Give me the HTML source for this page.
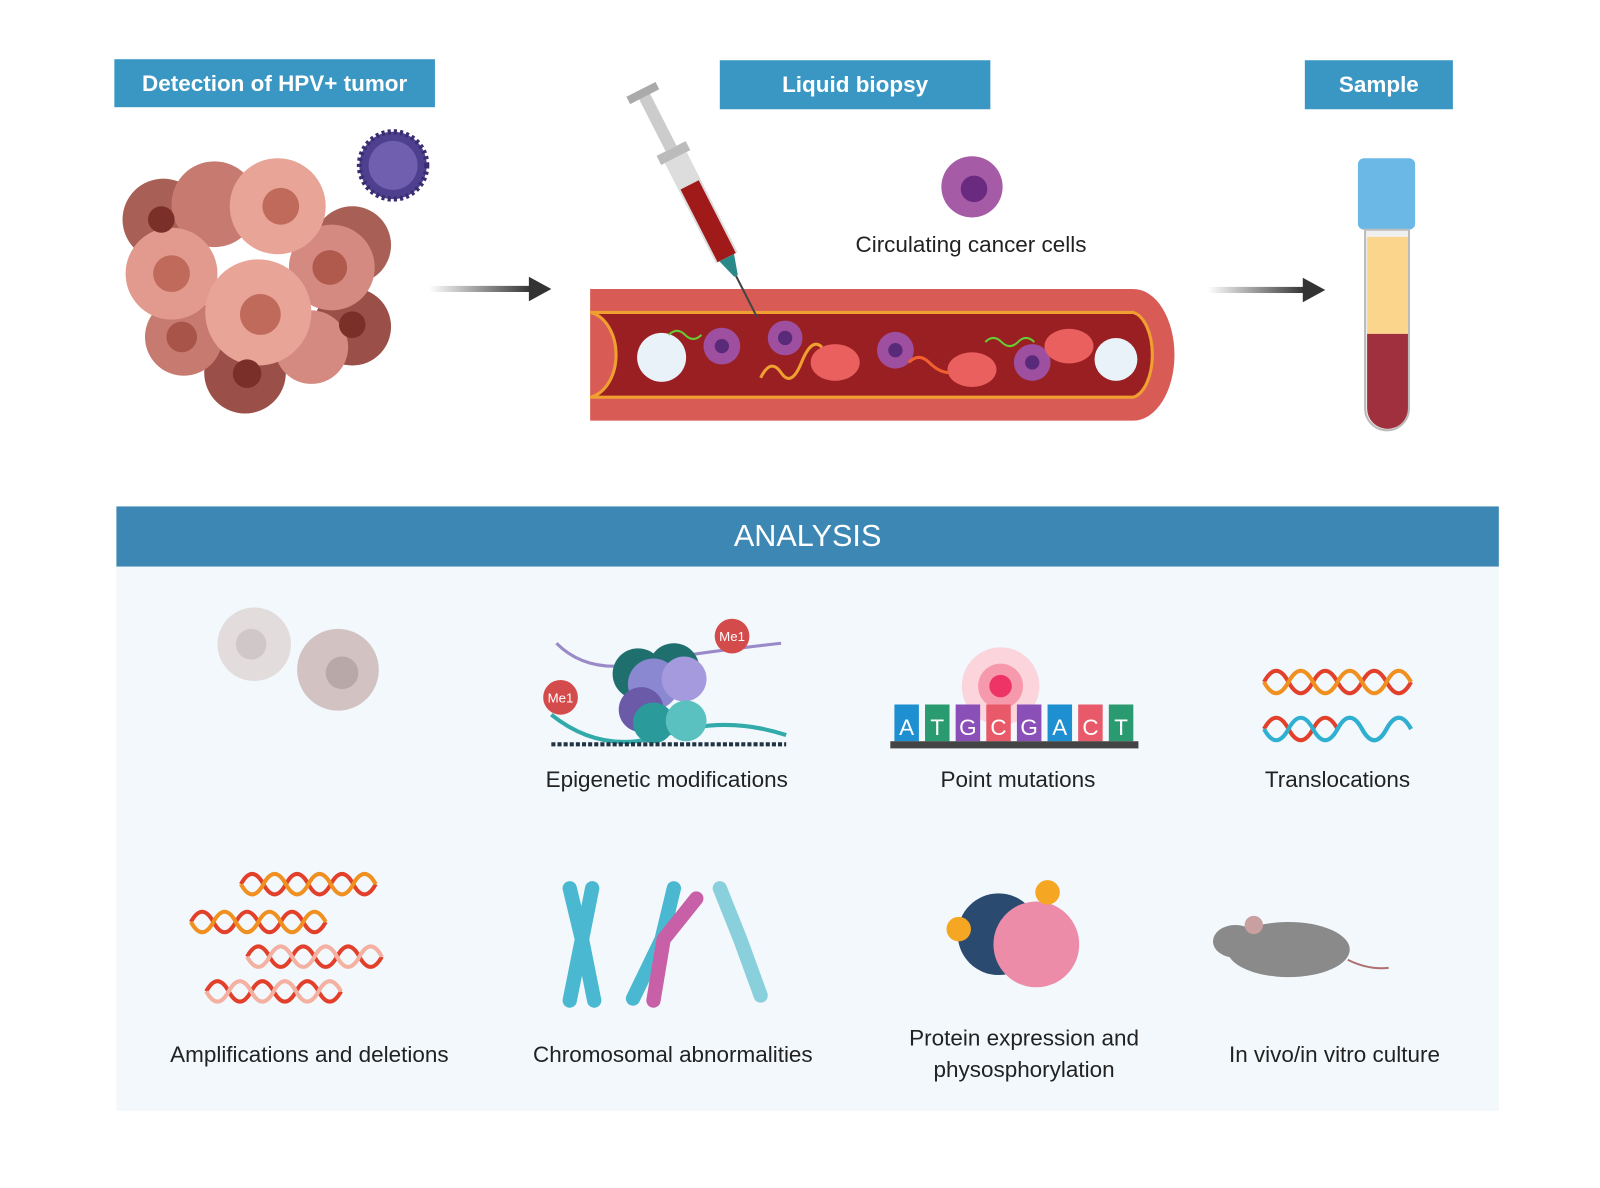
<!DOCTYPE html>
<html><head><meta charset="utf-8"><style>
body{margin:0;width:1600px;height:1164px;background:#fff;position:relative;overflow:hidden;font-family:"Liberation Sans",sans-serif}
#w{position:absolute;left:0;top:0;width:1567px;height:1140px;transform:scale(1.021);transform-origin:0 0}
.lbl{position:absolute;background:#3a97c4;color:#fff;font-weight:bold;font-size:22px;display:flex;align-items:center;justify-content:center}
.t{position:absolute;color:#222;font-size:22px;text-align:center;transform:translateX(-50%);white-space:nowrap;line-height:31px}
</style></head><body><div id="w">
<div class="lbl" style="left:112px;top:58px;width:314px;height:47px">Detection of HPV+ tumor</div>
<div class="lbl" style="left:705px;top:59px;width:265px;height:48px">Liquid biopsy</div>
<div class="lbl" style="left:1278px;top:59px;width:145px;height:48px">Sample</div>
<div style="position:absolute;left:114px;top:496px;width:1354px;height:59px;background:#3d87b5;color:#fff;font-size:30px;display:flex;align-items:center;justify-content:center">ANALYSIS</div>
<div style="position:absolute;left:114px;top:555px;width:1354px;height:533px;background:#f2f8fc"></div>
<svg width="1600" height="1164" style="position:absolute;left:0;top:0">
<defs><linearGradient id="ar" x1="0" x2="1"><stop offset="0" stop-color="#fff"/><stop offset="1" stop-color="#333"/></linearGradient></defs>
<g stroke="none">
<circle cx="160" cy="215" r="40" fill="#a85f55"/><circle cx="345" cy="240" r="38" fill="#a85f55"/><circle cx="345" cy="320" r="38" fill="#9a5048"/><circle cx="240" cy="365" r="40" fill="#9a5048"/>
<circle cx="210" cy="200" r="42" fill="#c77a70"/><circle cx="180" cy="330" r="38" fill="#c77a70"/><circle cx="305" cy="340" r="36" fill="#d48a80"/><circle cx="325" cy="262" r="42" fill="#d48a80"/>
<circle cx="168" cy="268" r="45" fill="#e29a8e"/><circle cx="272" cy="202" r="47" fill="#e8a496"/><circle cx="253" cy="306" r="52" fill="#e8a496"/>
<circle cx="168" cy="268" r="18" fill="#c06a5c"/><circle cx="275" cy="202" r="18" fill="#c06a5c"/><circle cx="255" cy="308" r="20" fill="#c06a5c"/><circle cx="323" cy="262" r="17" fill="#b05a4e"/><circle cx="178" cy="330" r="15" fill="#a85448"/><circle cx="242" cy="366" r="14" fill="#7a3028"/><circle cx="345" cy="318" r="13" fill="#7a3028"/><circle cx="158" cy="215" r="13" fill="#7a3028"/>
</g>
<circle cx="385" cy="162" r="33" fill="#4f3f8f" stroke="#3a2c70" stroke-width="5" stroke-dasharray="3 3"/><circle cx="385" cy="162" r="24" fill="#6f5fae"/>
<rect x="420" y="280" width="100" height="6" fill="url(#ar)"/><polygon points="518,271 540,283 518,295" fill="#333"/>
<rect x="1183" y="281" width="95" height="6" fill="url(#ar)"/><polygon points="1276,272 1298,284 1276,296" fill="#333"/>
<path d="M578 283 H1110 A40 64 0 0 1 1110 412 H578 Z" fill="#d85c55"/>
<path d="M578 306 H1110 A22 42 0 0 1 1110 389 H578 A30 42 0 0 0 578 306Z" fill="#9a1f22" stroke="#f0a030" stroke-width="3"/>
<circle cx="648" cy="350" r="24" fill="#e8f2f8"/><circle cx="1093" cy="352" r="21" fill="#e8f2f8"/>
<g fill="#9e4fa0"><circle cx="707" cy="339" r="18"/><circle cx="769" cy="331" r="17"/><circle cx="877" cy="343" r="18"/><circle cx="1011" cy="355" r="18"/></g>
<g fill="#5a2a7a"><circle cx="707" cy="339" r="7"/><circle cx="769" cy="331" r="7"/><circle cx="877" cy="343" r="7"/><circle cx="1011" cy="355" r="7"/></g>
<g fill="#e9605e"><ellipse cx="818" cy="355" rx="24" ry="18"/><ellipse cx="952" cy="362" rx="24" ry="17"/><ellipse cx="1047" cy="339" rx="24" ry="17"/></g>
<path d="M745 370 q10-20 20-5 t20-10 t20-15" stroke="#f0a030" stroke-width="3" fill="none"/><path d="M890 355 q10-10 20 0 t20 10" stroke="#f06030" stroke-width="3" fill="none"/>
<path d="M655 328 q8-8 16 0 t16 0" stroke="#6c3" stroke-width="2" fill="none"/><path d="M965 335 q8-8 16 0 t16 0 t16 0" stroke="#6c3" stroke-width="2" fill="none"/>
<g transform="rotate(-27 680 190)"><rect x="674" y="80" width="12" height="60" fill="#ccc"/><rect x="664" y="75" width="32" height="8" fill="#aaa"/><rect x="664" y="140" width="32" height="10" fill="#bbb"/><rect x="668" y="150" width="24" height="110" fill="#ddd"/><rect x="670" y="180" width="20" height="80" fill="#a01a1a"/><polygon points="672,260 688,260 682,280 678,280" fill="#2a8a8a"/><line x1="680" y1="280" x2="680" y2="325" stroke="#444" stroke-width="2"/></g>
<circle cx="952" cy="183" r="30" fill="#a55ba5"/><circle cx="954" cy="185" r="13" fill="#6a2a80"/>
<rect x="1330" y="155" width="56" height="70" rx="6" fill="#6bb8e6"/><path d="M1337 225 H1380 V400 A21 21 0 0 1 1337 400 Z" fill="#f0f0f0" stroke="#bbb" stroke-width="2"/><rect x="1339" y="232" width="40" height="95" fill="#fcd58c"/><path d="M1339 327 H1379 V400 A20 20 0 0 1 1339 400Z" fill="#a0303e"/>
<circle cx="249" cy="631" r="36" fill="#e2dcdc"/><circle cx="246" cy="631" r="15" fill="#d0c8c8"/><circle cx="331" cy="656" r="40" fill="#d2c2c2"/><circle cx="335" cy="659" r="16" fill="#b8a8a8"/>
<path d="M540 700 q50 40 110 20 t120 0" stroke="#3aa" stroke-width="4" fill="none"/><path d="M545 630 q30 30 80 20 t140 -20" stroke="#9a8ac8" stroke-width="3" fill="none"/>
<circle cx="625" cy="660" r="25" fill="#1f6f6f"/><circle cx="660" cy="655" r="25" fill="#1f6f6f"/><circle cx="640" cy="670" r="25" fill="#8a88d0"/><circle cx="670" cy="665" r="22" fill="#a59ade"/><circle cx="628" cy="695" r="22" fill="#6a5aa8"/><circle cx="640" cy="708" r="20" fill="#2a9a9a"/><circle cx="672" cy="706" r="20" fill="#5ac0c0"/>
<line x1="540" y1="729" x2="770" y2="729" stroke="#234" stroke-width="4" stroke-dasharray="4 2"/>
<circle cx="717" cy="623" r="17" fill="#d44b4b"/><text x="717" y="628" font-size="13" fill="#fff" text-anchor="middle" font-family="Liberation Sans">Me1</text>
<circle cx="549" cy="683" r="17" fill="#d44b4b"/><text x="549" y="688" font-size="13" fill="#fff" text-anchor="middle" font-family="Liberation Sans">Me1</text>
<circle cx="980" cy="672" r="38" fill="#fbd4dc"/><circle cx="980" cy="672" r="22" fill="#f799ad"/><circle cx="980" cy="672" r="11" fill="#ee3366"/>
<g font-family="Liberation Sans" font-size="22" fill="#fff" text-anchor="middle">
<rect x="876" y="690" width="24" height="36" fill="#1e8fd0"/><text x="888" y="720">A</text>
<rect x="906" y="690" width="24" height="36" fill="#2a9a70"/><text x="918" y="720">T</text>
<rect x="936" y="690" width="24" height="36" fill="#8a50b8"/><text x="948" y="720">G</text>
<rect x="966" y="690" width="24" height="36" fill="#e85a6a"/><text x="978" y="720">C</text>
<rect x="996" y="690" width="24" height="36" fill="#8a50b8"/><text x="1008" y="720">G</text>
<rect x="1026" y="690" width="24" height="36" fill="#1e8fd0"/><text x="1038" y="720">A</text>
<rect x="1056" y="690" width="24" height="36" fill="#e85a6a"/><text x="1068" y="720">C</text>
<rect x="1086" y="690" width="24" height="36" fill="#2a9a70"/><text x="1098" y="720">T</text></g>
<rect x="872" y="726" width="243" height="7" fill="#444"/>
<g fill="none" stroke-width="4">
<path d="M1238 668 q12-22 24 0 t24 0 t24 0 t24 0 t24 0 t24 0" stroke="#e2402a"/><path d="M1238 668 q12 22 24 0 t24 0 t24 0 t24 0 t24 0 t24 0" stroke="#f09020"/>
<path d="M1238 714 q12-22 24 0 t24 0 t24 0" stroke="#e2402a"/><path d="M1310 714 q12-22 24 0 t24 0 t24 0" stroke="#2a8ad0"/><path d="M1238 714 q12 22 24 0 t24 0 t24 0 t24 0 t24 0 t24 0" stroke="#30b0d0"/>
<path d="M236 866 q11-20 22 0 t22 0 t22 0 t22 0 t22 0 t22 0" stroke="#e2402a"/><path d="M236 866 q11 20 22 0 t22 0 t22 0 t22 0 t22 0 t22 0" stroke="#f09020"/>
<path d="M187 903 q11-20 22 0 t22 0 t22 0 t22 0 t22 0 t22 0" stroke="#e2402a"/><path d="M187 903 q11 20 22 0 t22 0 t22 0 t22 0 t22 0 t22 0" stroke="#f09020"/>
<path d="M242 937 q11-20 22 0 t22 0 t22 0 t22 0 t22 0 t22 0" stroke="#e2402a"/><path d="M242 937 q11 20 22 0 t22 0 t22 0 t22 0 t22 0 t22 0" stroke="#f4b0a0"/>
<path d="M202 971 q11-20 22 0 t22 0 t22 0 t22 0 t22 0 t22 0" stroke="#e2402a"/><path d="M202 971 q11 20 22 0 t22 0 t22 0 t22 0 t22 0 t22 0" stroke="#f4b0a0"/>
</g>
<g stroke-linecap="round" fill="none" stroke-width="14">
<path d="M558 870 L570 920 L558 980" stroke="#4ab8d0"/><path d="M580 870 L570 920 L582 980" stroke="#4ab8d0"/>
<path d="M660 870 L648 920 L620 978" stroke="#4ab8d0"/><path d="M682 880 L650 920 L640 980" stroke="#c860a8"/>
<path d="M705 870 L725 920 L745 975" stroke="#8ad0dc"/>
</g>
<circle cx="978" cy="915" r="40" fill="#2a4a70"/><circle cx="1015" cy="925" r="42" fill="#ec8ca8"/><circle cx="1026" cy="874" r="12" fill="#f5a623"/><circle cx="939" cy="910" r="12" fill="#f5a623"/>
<ellipse cx="1262" cy="930" rx="60" ry="27" fill="#8a8a8a"/><ellipse cx="1210" cy="922" rx="22" ry="16" fill="#8a8a8a"/><circle cx="1228" cy="906" r="9" fill="#c8a0a0"/><path d="M1320 940 q20 10 40 8" stroke="#b07070" stroke-width="2" fill="none"/>
</svg>
<div class="t" style="left:951px;top:224px">Circulating cancer cells</div>
<div class="t" style="left:653px;top:748px">Epigenetic modifications</div>
<div class="t" style="left:997px;top:748px">Point mutations</div>
<div class="t" style="left:1310px;top:748px">Translocations</div>
<div class="t" style="left:303px;top:1017px">Amplifications and deletions</div>
<div class="t" style="left:659px;top:1017px">Chromosomal abnormalities</div>
<div class="t" style="left:1003px;top:1001px">Protein expression and<br>physosphorylation</div>
<div class="t" style="left:1307px;top:1017px">In vivo/in vitro culture</div>
</div></body></html>
